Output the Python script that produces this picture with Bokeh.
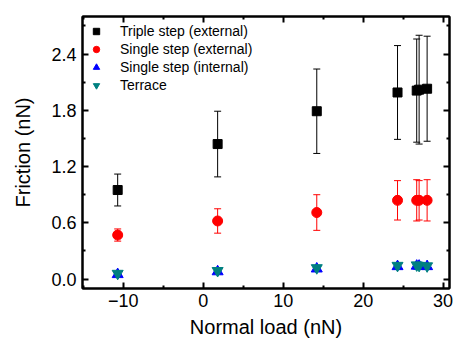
from bokeh.plotting import figure
from bokeh.models import (ColumnDataSource, Whisker, TeeHead, FixedTicker, LinearAxis,
                          Range1d, Legend, LegendItem, CustomJSTickFormatter)
from bokeh.embed import file_html
from bokeh.resources import INLINE

# ---- data ----
loads = [-10.7, 1.8, 14.2, 24.3, 26.7, 27.0, 28.0]
triple_ext = [0.95, 1.44, 1.79, 1.99, 2.01, 2.02, 2.03]
triple_err = [0.17, 0.35, 0.45, 0.50, 0.55, 0.58, 0.56]
single_ext = [0.47, 0.62, 0.71, 0.84, 0.84, 0.84, 0.84]
single_ext_err = [0.065, 0.13, 0.19, 0.21, 0.22, 0.21, 0.22]
single_int = [0.05, 0.08, 0.11, 0.135, 0.14, 0.14, 0.135]
terrace = [0.06, 0.09, 0.12, 0.145, 0.15, 0.145, 0.14]

x_ticks = [-10, 0, 10, 20, 30]
x_minor = [-15, -5, 5, 15, 25]
y_ticks = [0.0, 0.6, 1.2, 1.8, 2.4]
y_minor = [0.3, 0.9, 1.5, 2.1, 2.7]
y_tick_labels = {0.0: "0.0", 0.6: "0.6", 1.2: "1.2", 1.8: "1.8", 2.4: "2.4"}

FONT = "Liberation Sans"

src = ColumnDataSource(dict(
    x=loads,
    t=triple_ext,
    t_up=[a + b for a, b in zip(triple_ext, triple_err)],
    t_lo=[a - b for a, b in zip(triple_ext, triple_err)],
    s=single_ext,
    s_up=[a + b for a, b in zip(single_ext, single_ext_err)],
    s_lo=[a - b for a, b in zip(single_ext, single_ext_err)],
    i=single_int,
    r=terrace,
))

p = figure(width=455, height=344, output_backend="svg", toolbar_location=None,
           x_range=Range1d(-15.1, 30.8), y_range=Range1d(-0.1, 2.8),
           min_border_left=82, min_border_top=16, min_border_right=6, min_border_bottom=56,
           x_axis_label="Normal load (nN)", y_axis_label="Friction (nN)")
p.grid.visible = False
p.outline_line_color = "black"
p.outline_line_width = 2
p.background_fill_color = "white"
p.border_fill_color = "white"

def style_axis(ax, ticks, minor, show_labels):
    ax.ticker = FixedTicker(ticks=ticks, minor_ticks=minor)
    ax.axis_line_width = 2
    ax.axis_line_color = "black"
    ax.major_tick_in = 6
    ax.major_tick_out = 0
    ax.major_tick_line_width = 2
    ax.minor_tick_in = 3
    ax.minor_tick_out = 0
    ax.minor_tick_line_width = 2
    ax.major_label_text_font = FONT
    ax.major_label_text_font_size = "18px"
    ax.major_label_text_color = "black"
    ax.axis_label_text_font = FONT
    ax.axis_label_text_font_size = "20px"
    ax.axis_label_text_font_style = "normal"
    ax.axis_label_text_color = "black"
    if not show_labels:
        ax.formatter = CustomJSTickFormatter(code="return ''")
        ax.major_label_standoff = 0
        ax.major_label_text_font_size = "1px"

style_axis(p.xaxis[0], x_ticks, x_minor, True)
style_axis(p.yaxis[0], y_ticks, y_minor, True)
p.yaxis[0].major_label_overrides = y_tick_labels
p.xaxis[0].major_label_standoff = 5
p.yaxis[0].major_label_standoff = 6
p.xaxis[0].axis_label_standoff = 6
p.yaxis[0].axis_label_standoff = 14

top = LinearAxis()
style_axis(top, x_ticks, x_minor, False)
p.add_layout(top, "above")
right = LinearAxis()
style_axis(right, y_ticks, y_minor, False)
p.add_layout(right, "right")

# error bars
p.add_layout(Whisker(source=src, base="x", upper="t_up", lower="t_lo", line_color="black", line_width=1,
                     upper_head=TeeHead(size=7, line_color="black", line_width=1),
                     lower_head=TeeHead(size=7, line_color="black", line_width=1)))
p.add_layout(Whisker(source=src, base="x", upper="s_up", lower="s_lo", line_color="red", line_width=1,
                     upper_head=TeeHead(size=7, line_color="red", line_width=1),
                     lower_head=TeeHead(size=7, line_color="red", line_width=1)))

r1 = p.scatter("x", "t", source=src, marker="square", size=9, color="black")
r2 = p.scatter("x", "s", source=src, marker="circle", size=10, color="red")
r3 = p.scatter("x", "i", source=src, marker="triangle", size=11, color="blue")
r4 = p.scatter("x", "r", source=src, marker="inverted_triangle", size=11, color="#008080")

legend = Legend(items=[
    LegendItem(label="Triple step (external)", renderers=[r1]),
    LegendItem(label="Single step (external)", renderers=[r2]),
    LegendItem(label="Single step (internal)", renderers=[r3]),
    LegendItem(label="Terrace", renderers=[r4]),
], location="top_left")
legend.margin = 6
legend.padding = 7
legend.glyph_width = 16
legend.glyph_height = 18
legend.label_height = 18
legend.spacing = 0
legend.label_standoff = 16
legend.label_text_font = FONT
legend.label_text_font_size = "14px"
legend.label_text_color = "black"
legend.border_line_color = None
legend.background_fill_alpha = 0
p.add_layout(legend)

open("out.html", "w").write(file_html(p, INLINE))
